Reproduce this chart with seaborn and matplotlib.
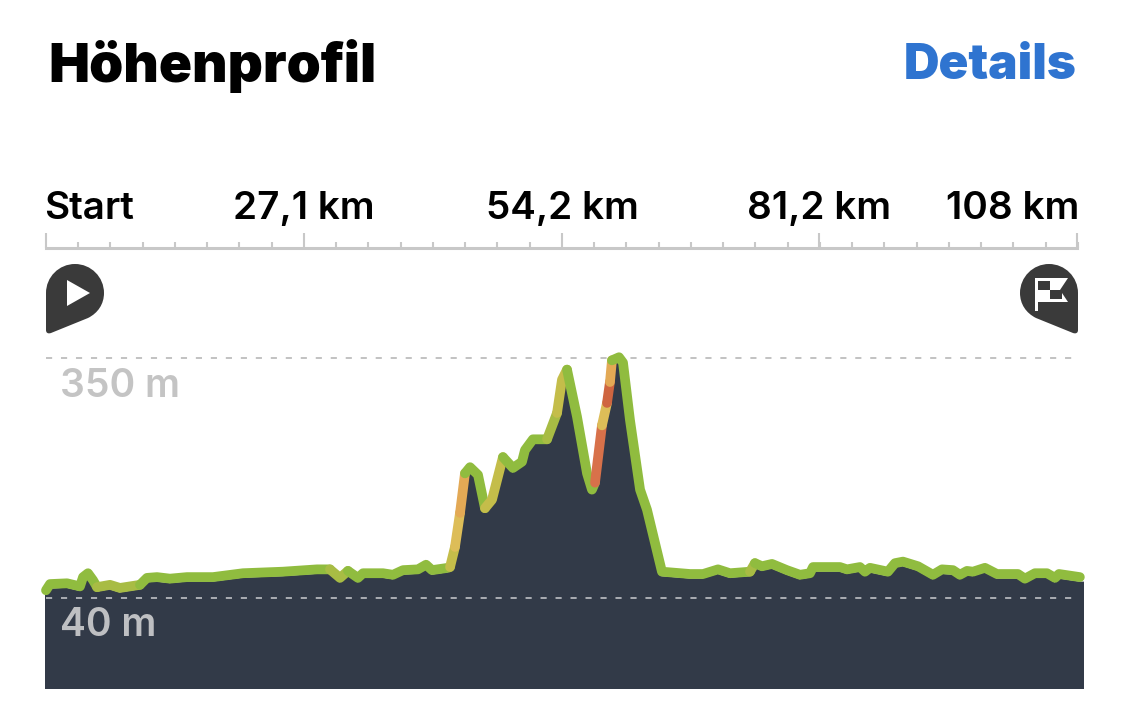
import pandas as pd
import seaborn as sns
import matplotlib.pyplot as plt
from matplotlib import transforms
from matplotlib.patches import PathPatch, Polygon, Rectangle
from matplotlib.path import Path
from matplotlib.ticker import AutoMinorLocator

# route profile
km = [0.0, 0.42, 2.21, 3.57, 3.89, 4.41, 4.94, 5.36, 6.72, 7.77,
      9.87, 10.61, 11.66, 13.02, 14.81, 17.54, 20.69, 24.89, 28.47, 29.83,
      30.88, 31.72, 32.77, 33.3, 35.4, 36.45, 37.5, 39.07, 39.92, 40.55,
      42.23, 42.44, 42.96, 43.49, 44.01, 44.54, 45.38, 46.11, 46.85, 48.0,
      49.05, 50.0, 50.31, 51.15, 52.63, 53.68, 54.2, 54.73, 55.78, 56.83,
      57.35, 57.67, 58.4, 58.93, 59.24, 59.45, 60.19, 60.61, 61.34, 62.4,
      63.13, 64.7, 67.65, 69.02, 70.59, 71.85, 73.95, 74.47, 75.21, 76.26,
      77.83, 79.2, 80.25, 80.57, 83.4, 84.14, 85.5, 86.03, 86.55, 88.44,
      89.18, 90.02, 91.6, 93.17, 94.12, 95.27, 96.0, 96.74, 97.37, 98.63,
      99.89, 102.1, 102.83, 103.88, 105.15, 105.99, 106.41, 108.6]
elevation = [50, 58, 59, 55, 67, 72, 63, 54, 57, 53,
             57, 66, 67, 65, 67, 67, 72, 74, 77, 77,
             66, 75, 66, 72, 72, 70, 76, 77, 83, 76,
             79, 80, 106, 150, 201, 209, 199, 156, 167, 222,
             208, 216, 231, 245, 245, 279, 322, 335, 274, 201,
             180, 189, 263, 292, 319, 347, 351, 344, 270, 180,
             154, 74, 71, 71, 77, 72, 74, 85, 81, 84,
             76, 70, 72, 80, 80, 77, 80, 74, 79, 74,
             85, 87, 81, 70, 77, 76, 70, 75, 74, 79,
             71, 71, 65, 72, 72, 66, 71, 67]
# gradient class of the stretch that starts at each point
grades = ("gggggggllgggggggggllggggggggggoyagggoogggggloogggg"
          "tyragggggggggggl" + "g" * 30)
grades = grades[:7] + "lll" + grades[9:]

grade_colors = {"g": "#90BC3F", "l": "#A8BC44", "o": "#C4BD4A", "y": "#DDBD58",
                "a": "#E3A955", "t": "#D8714A", "r": "#CF6540"}

tick_km = [0, 27.1, 54.2, 81.2, 108.3]
tick_labels = ["Start", "27,1 km", "54,2 km", "81,2 km", "108 km"]
ref_levels = [350, 40]
ref_labels = ["350 m", "40 m"]
ref_colors = ["#BDBDBD", "#B4B7BC"]
ref_text_colors = ["#C4C4C4", "#BEBFC2"]

W, H = 1125, 701
DARK = "#323A48"

sns.set_theme(style="white")
plt.rcParams["font.family"] = ["Inter", "DejaVu Sans"]

fig = plt.figure(figsize=(W / 100, H / 100), dpi=100, facecolor="white")
# pixel space, origin top left, for the header and the pins
px = transforms.Affine2D().scale(1, -1).translate(0, H)


def axes_box(left, top, right, bottom):
    return [left / W, 1 - bottom / H, (right - left) / W, (bottom - top) / H]


ax = fig.add_axes(axes_box(45, 270, 1083, 688))
ax.set_xlim(-0.105, 108.93)
ax.set_ylim(-76.25, 463.7)
ax.axis("off")

# area sits a little under the line
area_tr = transforms.offset_copy(ax.transData, fig=fig, x=-1, y=-4, units="dots")
fill_km = [km[0] - 2] + km + [km[-1] + 2]
fill_el = [elevation[0]] + elevation + [elevation[-1]]
ax.fill_between(fill_km, fill_el, -300, color=DARK, lw=0, transform=area_tr, zorder=1)

for level, c in zip(ref_levels, ref_colors):
    ax.hlines(level, 0, 108, color=c, lw=1.3, linestyles=(0, (3.4, 4.9)), zorder=2)

# one line per run of equal gradient class
df = pd.DataFrame({"km": km, "elevation": elevation})
start = 0
runs = []
for i in range(1, len(grades) + 1):
    if i == len(grades) or grades[i] != grades[start]:
        runs.append((start, i, grades[start]))
        start = i
for a, b, g in runs:
    sns.lineplot(data=df.iloc[a:b + 1], x="km", y="elevation", ax=ax, color=grade_colors[g],
                 linewidth=7.0, sort=False, estimator=None, errorbar=None, zorder=3,
                 solid_capstyle="round", solid_joinstyle="round", clip_on=False)
ax.axis("off")

# distance ruler
ruler = fig.add_axes(axes_box(45, 246.5, 1083, 247.5), facecolor="none")
ruler.set_xlim(-0.105, 108.93)
ruler.set_yticks([])
sns.despine(ax=ruler, left=True, right=True, top=True)
ruler.spines["bottom"].set_color("#C8C8C8")
ruler.spines["bottom"].set_linewidth(2.2)
ruler.spines["bottom"].set_bounds(0, 108.3)
ruler.set_xticks(tick_km)
ruler.set_xticklabels(tick_labels)
ruler.xaxis.set_minor_locator(AutoMinorLocator(8))
ruler.tick_params(axis="x", which="major", direction="in", length=11, width=1.5, color="#C8C8C8",
                  bottom=True, top=False, labelbottom=False, labeltop=True, pad=14, labelsize=27.8,
                  labelcolor="black")
ruler.tick_params(axis="x", which="minor", direction="in", length=4.5, width=1.5, color="#C8C8C8",
                  bottom=True, top=False)
for lab in ruler.get_xticklabels():
    lab.set_fontweight("semibold")
first, last = ruler.get_xticklabels()[0], ruler.get_xticklabels()[-1]
first.set_ha("left")
last.set_ha("right")
first.set_transform(first.get_transform() + transforms.Affine2D().translate(-2, 0))
last.set_transform(last.get_transform() + transforms.Affine2D().translate(2, 0))

# header
fig.text(48, 82, "Höhenprofil", transform=px, fontsize=39.4, fontweight="black", color="black",
         ha="left", va="baseline")
fig.text(1077, 79, "Details", transform=px, fontsize=35.5, fontweight="black", color="#2F74D0",
         ha="right", va="baseline")
fig.text(60.5, 397, ref_labels[0], transform=px, fontsize=28, fontweight="semibold",
         color=ref_text_colors[0], va="baseline")
fig.text(60.5, 636, ref_labels[1], transform=px, fontsize=28, fontweight="semibold",
         color=ref_text_colors[1], va="baseline", zorder=5)


def pin(mirror=None):
    # teardrop marker, tip bottom left unless mirrored about x = mirror
    verts = [(46, 330), (46, 293), (46, 277), (59, 264), (75, 264), (91, 264), (104, 277), (104, 293),
             (104, 304), (98, 313), (88, 318), (51, 333), (48, 334), (46, 333), (46, 330)]
    codes = [Path.MOVETO, Path.LINETO] + [Path.CURVE4] * 9 + [Path.LINETO] + [Path.CURVE4] * 3
    if mirror:
        verts = [(mirror - x, y) for x, y in verts]
    return PathPatch(Path(verts, codes), fc="#3A3A3A", ec="none", transform=px)


fig.add_artist(pin())
fig.add_artist(Polygon([(67, 280), (67, 306), (90, 293)], fc="white", ec="none", transform=px))
fig.add_artist(pin(1124))
fig.add_artist(Rectangle((1035, 278), 3, 33, fc="white", ec="none", transform=px))
fig.add_artist(Polygon([(1035, 278), (1068, 278), (1060, 290), (1068, 302), (1035, 302)],
                       fc="white", ec="none", transform=px))
fig.add_artist(Rectangle((1038, 281), 12, 9, fc="#3A3A3A", ec="none", transform=px))
fig.add_artist(Rectangle((1050, 290), 12, 9, fc="#3A3A3A", ec="none", transform=px))

assert len(km) == len(elevation) == len(grades) + 1
fig.savefig("out.png", dpi=100, facecolor="white")
